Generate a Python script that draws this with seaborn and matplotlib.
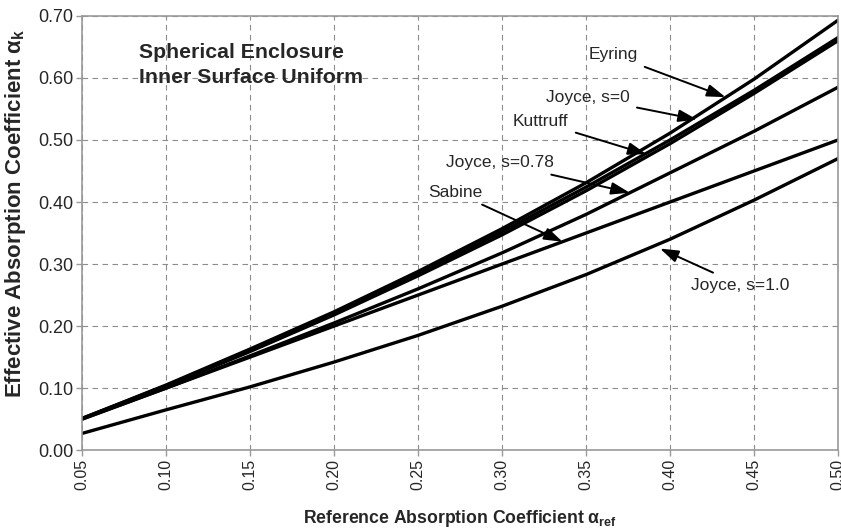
import matplotlib
matplotlib.use("Agg")
import matplotlib.pyplot as plt
import seaborn as sns
import pandas as pd

# reference absorption coefficient (x axis)
alpha_ref = [0.05, 0.10, 0.15, 0.20, 0.25, 0.30, 0.35, 0.40, 0.45, 0.50]

# effective absorption coefficient
eyring = [0.051, 0.105, 0.163, 0.223, 0.288, 0.357, 0.431, 0.511, 0.598, 0.693]
joyce_s0 = [0.051, 0.104, 0.161, 0.221, 0.285, 0.352, 0.424, 0.500, 0.580, 0.665]
kuttruff = [0.051, 0.103, 0.159, 0.218, 0.281, 0.347, 0.418, 0.494, 0.575, 0.660]
joyce_s078 = [0.050, 0.100, 0.152, 0.205, 0.260, 0.318, 0.380, 0.447, 0.514, 0.585]
sabine = [0.050, 0.100, 0.150, 0.200, 0.250, 0.300, 0.350, 0.400, 0.450, 0.500]
joyce_s1 = [0.027, 0.065, 0.102, 0.142, 0.185, 0.232, 0.283, 0.340, 0.403, 0.470]

series = {
    "Eyring": eyring,
    "Joyce, s=0": joyce_s0,
    "Kuttruff": kuttruff,
    "Joyce, s=0.78": joyce_s078,
    "Sabine": sabine,
    "Joyce, s=1.0": joyce_s1,
}

rows = []
for name, vals in series.items():
    for a, v in zip(alpha_ref, vals):
        rows.append({"series": name, "ref": a, "eff": v})
df = pd.DataFrame(rows)

sns.set_style("white")
plt.rcParams["font.family"] = ["Liberation Sans", "DejaVu Sans"]
plt.rcParams["mathtext.fontset"] = "custom"
plt.rcParams["mathtext.bf"] = "Liberation Sans:bold"
plt.rcParams["mathtext.rm"] = "Liberation Sans"

fig = plt.figure(figsize=(8.41, 5.29), dpi=100)
ax = fig.add_axes([0.0975, 0.149, 0.899, 0.821])

sns.lineplot(data=df, x="ref", y="eff", hue="series",
             palette=["black"] * len(series), linewidth=2.4,
             legend=False, ax=ax)

ax.set_xlim(0.05, 0.50)
ax.set_ylim(0.0, 0.70)
ax.set_xticks(alpha_ref)
ax.set_xticklabels([f"{v:.2f}" for v in alpha_ref], rotation=90, fontsize=11.5)
yt = [0.0, 0.1, 0.2, 0.3, 0.4, 0.5, 0.6, 0.7]
ax.set_yticks(yt)
ax.set_yticklabels([f"{v:.2f}" for v in yt], fontsize=13)

ax.grid(True, color="#8c8c8c", linestyle=(0, (5, 4)), linewidth=0.8)
for s in ax.spines.values():
    s.set_color("#999999")
    s.set_linewidth(1.2)
ax.tick_params(axis="both", which="both", direction="out", length=4,
               color="#999999", width=1, bottom=True, left=True, pad=2)

ax.set_xlabel(r"Reference Absorption Coefficient α$_{\mathbf{ref}}$",
              fontsize=12.7, fontweight="bold")
ax.set_ylabel(r"Effective Absorption Coefficient α$_{\mathbf{k}}$",
              fontsize=16, fontweight="bold")
ax.xaxis.set_label_coords(0.5, -0.132)
ax.yaxis.set_label_coords(-0.071, 0.545)

ax.text(0.084, 0.621, "Spherical Enclosure\nInner Surface Uniform",
        fontsize=15.3, fontweight="bold", ha="left", va="center",
        linespacing=1.35)

arrow = dict(arrowstyle="-|>,head_length=0.9,head_width=0.3",
             color="black", lw=1.4, shrinkA=3, shrinkB=0)
# (label, text position, arrow tip)
notes = [
    ("Eyring", (0.366, 0.637), (0.433, 0.569)),
    ("Joyce, s=0", (0.351, 0.568), (0.416, 0.533)),
    ("Kuttruff", (0.323, 0.529), (0.386, 0.477)),
    ("Joyce, s=0.78", (0.299, 0.463), (0.376, 0.415)),
    ("Sabine", (0.272, 0.416), (0.336, 0.336)),
    ("Joyce, s=1.0", (0.442, 0.266), (0.394, 0.325)),
]
for label, xy_text, xy_tip in notes:
    ax.annotate(label, xy=xy_tip, xytext=xy_text, fontsize=12.5,
                ha="center", va="center", arrowprops=arrow)

fig.savefig("out.png", dpi=100)
